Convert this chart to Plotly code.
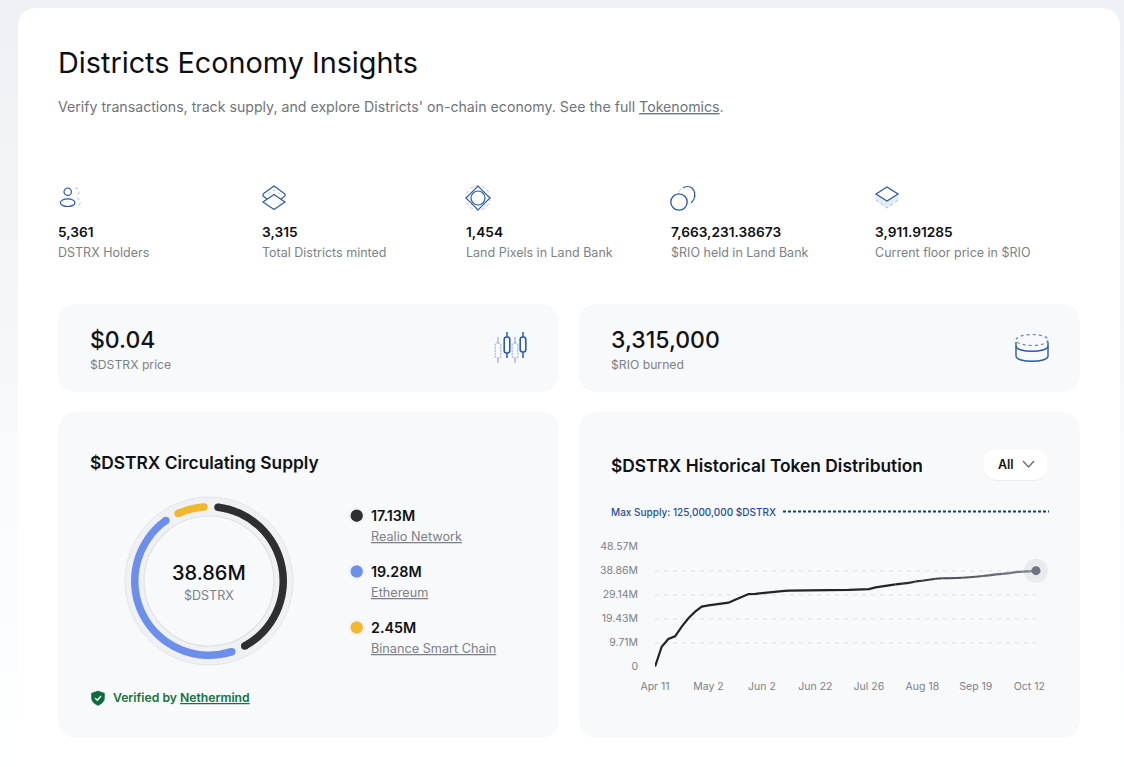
import plotly.graph_objects as go

W, H = 1124, 767
FONT = "Inter"

# ---------- data ----------
supply_names = ["Realio Network", "Ethereum", "Binance Smart Chain"]
supply_values = [17.13, 19.28, 2.45]
supply_labels = ["17.13M", "19.28M", "2.45M"]
supply_colors = ["#2f2f31", "#6d8fec", "#f1b72f"]
supply_total = "38.86M"
ring_gap = 1.3

stat_values = ["5,361", "3,315", "1,454", "7,663,231.38673", "3,911.91285"]
stat_labels = ["DSTRX Holders", "Total Districts minted", "Land Pixels in Land Bank",
               "$RIO held in Land Bank", "Current floor price in $RIO"]

history = [0, 8.1, 11.2, 12.3, 16.2, 19.6, 22.3, 24.3, 24.8, 25.2, 25.6, 25.9, 27.1, 28.3, 29.4,
           29.5, 29.8, 30.2, 30.5, 30.6, 30.8, 30.8, 30.85, 30.9, 30.9, 30.95, 30.95, 31.0, 31.0,
           31.1, 31.2, 31.3, 31.4, 32.1, 32.4, 32.7, 33.3, 33.6, 33.9, 34.5, 34.8, 35.2, 35.6,
           35.8, 35.8, 35.9, 36.0, 36.2, 36.4, 36.7, 37.0, 37.4, 37.6, 37.9, 38.3, 38.5, 38.6, 38.86]
x_tick_index = [0, 8, 16, 24, 32, 40, 48, 56]
x_tick_labels = ["Apr 11", "May 2", "Jun 2", "Jun 22", "Jul 26", "Aug 18", "Sep 19", "Oct 12"]
y_tick_values = [0, 9.71, 19.43, 29.14, 38.86, 48.57]
y_tick_labels = ["0", "9.71M", "19.43M", "29.14M", "38.86M", "48.57M"]

# ---------- helpers ----------
shapes, notes = [], []
BLUE, PALE = "#2b5aa6", "#a9bfe2"
GREY = "#7c8188"
CARD = "#f8f9fb"


def rrect(x0, y0, x1, y1, r):
    return (f"M{x0+r},{y0} L{x1-r},{y0} Q{x1},{y0} {x1},{y0+r} L{x1},{y1-r} Q{x1},{y1} {x1-r},{y1} "
            f"L{x0+r},{y1} Q{x0},{y1} {x0},{y1-r} L{x0},{y0+r} Q{x0},{y0} {x0+r},{y0} Z")


def box(x0, y0, x1, y1, r, fill, line=None):
    shapes.append(dict(type="path", xref="x", yref="y", path=rrect(x0, y0, x1, y1, r), fillcolor=fill,
                       line=dict(width=1 if line else 0, color=line or fill), layer="below"))


def circle(cx, cy, rx, ry=None, fill="rgba(0,0,0,0)", line=None, w=1.2, dash="solid"):
    ry = rx if ry is None else ry
    shapes.append(dict(type="circle", xref="x", yref="y", x0=cx-rx, x1=cx+rx, y0=cy-ry, y1=cy+ry,
                       fillcolor=fill, line=dict(color=line or fill, width=w if line else 0, dash=dash),
                       layer="below"))


def path(d, line=BLUE, w=1.2, fill="rgba(0,0,0,0)", dash="solid"):
    shapes.append(dict(type="path", xref="x", yref="y", path=d, fillcolor=fill,
                       line=dict(color=line, width=w, dash=dash), layer="below"))


def text(x, y, s, size, color="#101214", weight=400, anchor="left"):
    notes.append(dict(xref="x", yref="y", x=x - 1.5 if anchor == "left" else x, y=y, text=s, showarrow=False,
                      xanchor=anchor, yanchor="middle", align=anchor, borderpad=0,
                      font=dict(family=FONT, size=size, color=color, weight=weight)))


# ---------- page + cards ----------
bands = 16
for i in range(bands):
    t = i / (bands - 1)
    c = [round(a + (b - a) * t) for a, b in zip((238, 242, 246), (254, 255, 255))]
    shapes.append(dict(type="rect", xref="x", yref="y", x0=0, x1=W, y0=i * H / bands, y1=(i + 1) * H / bands + 1,
                       fillcolor=f"rgb({c[0]},{c[1]},{c[2]})", line=dict(width=0), layer="below"))
box(18, 8, 1120, 800, 20, "#ffffff")
box(58, 304, 559, 392, 20, CARD)
box(579, 304, 1080, 392, 20, CARD)
box(58, 412, 559, 738, 20, CARD)
box(579, 412, 1080, 738, 20, CARD)

# ---------- header ----------
text(58, 62, "Districts Economy Insights", 28.8, "#0c0f12", 400)
text(58, 106, "Verify transactions, track supply, and explore Districts' on-chain economy. See the full "
              "<u>Tokenomics</u>.", 14.17, "#6f757c")

# ---------- stats ----------
for x, v, l in zip([58, 262, 466, 671, 875], stat_values, stat_labels):
    text(x, 232, v, 13.7, "#0f1114", 600)
    text(x, 252, l, 12.5, GREY)

# icon: holders
circle(67.7, 191.7, 3.7, line=BLUE)
circle(67.7, 202.7, 7.3, 3.8, line=BLUE)
path("M75,188 Q79,188 79,192 Q79,195 76,196", line=PALE, w=1, dash="dot")
path("M77,198 Q81,200 80,204 Q78,206 76,206", line=PALE, w=1, dash="dot")
# icon: districts
path("M263,202 L274,194.5 L285,202 L274,209.5 Z", w=1.2)
path("M263,194 L274,186 L285,194 L285,196 L281,199", w=1.2)
path("M263,194 L263,196 L267,199", w=1.2)
path("M268,194 L274,190 L280,194", line=PALE, w=1, dash="dot")
# icon: land pixels
circle(478, 198, 12, line=PALE, w=1, dash="dot")
path("M466,198 L478,186 L490,198 L478,210 Z", w=1.1)
circle(478, 198, 7, line=BLUE, w=1.2)
# icon: coins
circle(687, 195, 8.5, line=PALE, w=1, dash="dot")
path("M683,188 Q688,185 692,188 Q696,192 694,199 Q693,201 691,203", w=1.1)
circle(679, 202, 8.2, fill="#ffffff", line=BLUE, w=1.3)
# icon: floor
path("M876,200 L887,208 L898,200 L898,194 L876,194 Z", line="#dde7f6", w=0.5, fill="#e3ecf9")
path("M876,200 L887,208 L898,200", line=PALE, w=1, dash="dot")
path("M876,194 L887,187 L898,194 L887,201 Z", w=1.3, fill="#ffffff")

# icon: candles
for cx, y0, y1, b0, b1, dark in [(498, 337, 363, 343, 358, False), (507, 332, 358, 337, 353, True),
                                 (515, 337, 363, 343, 358, False), (523, 332, 358, 337, 352, True)]:
    col = BLUE if dark else PALE
    path(f"M{cx},{y0} L{cx},{b0} M{cx},{b1} L{cx},{y1}", line=col, w=1.5)
    path(rrect(cx - 2.8, b0, cx + 2.8, b1, 2.4), line=col, w=1.6 if dark else 1.4,
         dash="solid" if dark else "2px,1px")
# icon: coin stack
circle(1032, 340, 16, 5.5, line="#5f86c4", w=1.2, dash="dot")
for dy in (6, 16):
    path(f"M1016,{340+dy} C1016,{347+dy} 1048,{347+dy} 1048,{340+dy}", w=1.5)
path("M1016,342 L1016,356 M1048,342 L1048,356", w=1.4)

# ---------- top cards ----------
text(90, 340, "$0.04", 23, "#111316", 500)
text(90, 364, "$DSTRX price", 12.2, GREY)
text(611, 340, "3,315,000", 23, "#111316", 500)
text(611, 364, "$RIO burned", 12.2, GREY)

# ---------- supply card ----------
text(90, 462, "$DSTRX Circulating Supply", 17.35, "#0f1114", 600)
cx, cy = 209, 581
circle(cx, cy, 84, fill="#f0f1f5", line="#e4e6ea", w=1)
circle(cx, cy, 65, fill=CARD, line="#dfe1e6", w=1.2)
text(cx, 573, supply_total, 20, "#0c0f12", 500, "center")
text(cx, 595, "$DSTRX", 12.5, GREY, 400, "center")

pie_values, pie_colors, cap_thetas, cap_colors = [], [], [], []
ring_rotation = 7
ring_sum = sum(supply_values) + ring_gap * len(supply_values)
run = 0.0
for v, c in zip(supply_values, supply_colors):
    pie_values += [v, ring_gap]
    pie_colors += [c, "rgba(0,0,0,0)"]
    cap_thetas += [ring_rotation + run / ring_sum * 360, ring_rotation + (run + v) / ring_sum * 360]
    cap_colors += [c, c]
    run += v + ring_gap

for y, n, v, c in zip([515.7, 571.5, 627.5], supply_names, supply_labels, supply_colors):
    circle(356.7, y, 7.5, fill="#ffffff", line="#e8eaee", w=0.8)
    circle(356.7, y, 6.2, fill=c)
    text(371.5, y - 0.5, v, 14.3, "#0f1114", 600)
    text(371.5, y + 21, f"<u>{n}</u>", 12.7, GREY)

path("M98,691 L104.5,693.2 L104.5,698 Q104.5,702.5 98,705.5 Q91.5,702.5 91.5,698 L91.5,693.2 Z",
     line="#0e6b3b", w=0.5, fill="#0e6b3b")
path("M95,698 L97.3,700.2 L101,696", line="#ffffff", w=1.3)
text(113.5, 697.5, "Verified by <u>Nethermind</u>", 12.2, "#167042", 600)

# ---------- history card ----------
text(611, 465, "$DSTRX Historical Token Distribution", 17.35, "#0f1114", 600)
box(983.5, 451, 1047.5, 481, 15, "#ebedf1")
box(983.5, 449, 1047.5, 480, 15, "#ffffff")
text(998.5, 464, "All", 12.5, "#111316", 600)
path("M1023,461 L1028.5,467 L1034,461", line="#6a6f76", w=1.4)
text(611, 511.5, "Max Supply: 125,000,000 $DSTRX", 10, "#1f4e9c", 500)
shapes.append(dict(type="line", xref="x", yref="y", x0=783, x1=1049, y0=511.5, y1=511.5,
                   line=dict(color="#123f80", width=2, dash="3px,2px"), layer="below"))

# ---------- figure ----------
fig = go.Figure()

# donut
fig.add_trace(go.Pie(values=pie_values, marker=dict(colors=pie_colors, line=dict(width=0)), hole=70.5 / 78,
                     sort=False, direction="clockwise", rotation=ring_rotation, textinfo="none", hoverinfo="skip",
                     showlegend=False,
                     domain=dict(x=[(cx - 78) / W, (cx + 78) / W], y=[1 - (cy + 78) / H, 1 - (cy - 78) / H])))
fig.add_trace(go.Scatterpolar(r=[74.25] * len(cap_thetas), theta=cap_thetas, mode="markers",
                              marker=dict(color=cap_colors, size=7.5, line=dict(width=0)),
                              showlegend=False, hoverinfo="skip", subplot="polar"))

# history line, fading to grey towards the end
idx = list(range(len(history)))
fade_from = 36
dark, light = (34, 36, 40), (126, 131, 140)
common = dict(xaxis="x2", yaxis="y2", cliponaxis=False, showlegend=False)
fig.add_trace(go.Scatter(x=[idx[-1]], y=[history[-1]], mode="markers", marker=dict(size=24, color="#e9ebef"),
                         hoverinfo="skip", **common))
fig.add_trace(go.Scatter(x=idx[:fade_from + 1], y=history[:fade_from + 1], mode="lines",
                         line=dict(color="rgb(34,36,40)", width=2.2), **common))
for i in range(fade_from, len(history) - 1):
    t = (i - fade_from) / (len(history) - 2 - fade_from)
    c = [round(a + (b - a) * t) for a, b in zip(dark, light)]
    fig.add_trace(go.Scatter(x=idx[i:i + 2], y=history[i:i + 2], mode="lines",
                             line=dict(color=f"rgb({c[0]},{c[1]},{c[2]})", width=2.2), **common))
fig.add_trace(go.Scatter(x=[idx[-1]], y=[history[-1]], mode="markers", marker=dict(size=9, color="#6f7480"), **common))

fig.update_layout(
    width=W, height=H, margin=dict(l=0, r=0, t=0, b=0, pad=0, autoexpand=False), autosize=False,
    paper_bgcolor="#ffffff", plot_bgcolor="rgba(0,0,0,0)", showlegend=False,
    shapes=shapes, annotations=notes, font=dict(family=FONT),
    xaxis=dict(domain=[0, 1], range=[0, W], visible=False, anchor="y", fixedrange=True),
    yaxis=dict(domain=[0, 1], range=[H, 0], visible=False, anchor="x", fixedrange=True),
    xaxis2=dict(domain=[655 / W, 1036 / W], range=[0, len(history) - 1], tickmode="array",
                tickvals=x_tick_index, ticktext=x_tick_labels, showgrid=False, zeroline=False, showline=False,
                ticks="", ticklabelstandoff=12, tickfont=dict(family=FONT, size=10.5, color=GREY), anchor="y2"),
    yaxis2=dict(domain=[1 - 666.7 / H, 1 - 546.7 / H], range=[0, 48.57], tickmode="array",
                tickvals=y_tick_values, ticktext=y_tick_labels, showgrid=True, gridcolor="#eaecef", gridwidth=1.5,
                griddash="4px,5px", zeroline=False, showline=False, ticks="", ticklabelstandoff=16,
                tickfont=dict(family=FONT, size=10.5, color=GREY), anchor="x2"),
    polar=dict(domain=dict(x=[(cx - 78) / W, (cx + 78) / W], y=[1 - (cy + 78) / H, 1 - (cy - 78) / H]),
               bgcolor="rgba(0,0,0,0)",
               radialaxis=dict(range=[0, 78], visible=False),
               angularaxis=dict(rotation=90, direction="clockwise", visible=False)),
)

fig.write_html("out.html", config=dict(displayModeBar=False),
               post_script="document.body.style.margin='0';document.body.style.overflow='hidden';")
